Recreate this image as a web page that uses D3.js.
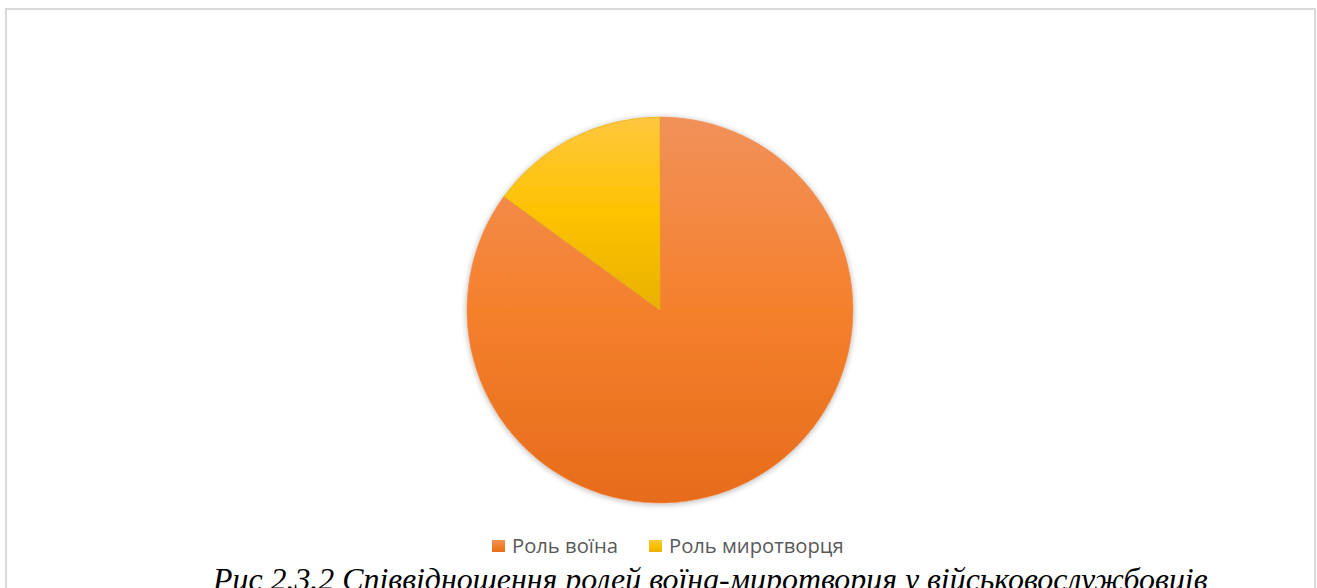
<!DOCTYPE html>
<html>
<head>
<meta charset="utf-8">
<script src="https://cdn.jsdelivr.net/npm/d3@7"></script>
<style>
  body { margin: 0; background: #fff; overflow: hidden; }
</style>
</head>
<body>
<div id="chart"></div>
<script>
// Data
const roles = ["Роль воїна", "Роль миротворця"];
const shares = [85, 15];
const caption = "Рис 2.3.2 Співвідношення ролей воїна-миротворця у військовослужбовців";

const width = 1317, height = 588;

let svg = d3.select("#chart")
    .append("svg")
    .attr("width", width)
    .attr("height", height);

const defs = svg.append("defs");

// gradients like the office style fill
const grads = [
    ["#f1915a", "#f5802c", "#e66c1b"],
    ["#ffc73f", "#fdc200", "#e9b100"]
];
grads.forEach((g, i) => {
    let lg = defs.append("linearGradient")
        .attr("id", "grad" + i)
        .attr("x1", 0).attr("y1", 0)
        .attr("x2", 0).attr("y2", 1);
    lg.append("stop").attr("offset", "0%").attr("stop-color", g[0]);
    lg.append("stop").attr("offset", "50%").attr("stop-color", g[1]);
    lg.append("stop").attr("offset", "100%").attr("stop-color", g[2]);
});

let shadow = defs.append("filter").attr("id", "shadow")
    .attr("x", "-10%").attr("y", "-10%").attr("width", "120%").attr("height", "120%");
shadow.append("feGaussianBlur").attr("in", "SourceAlpha").attr("stdDeviation", 3);
shadow.append("feOffset").attr("dx", 0).attr("dy", 1).attr("result", "blur");
shadow.append("feComponentTransfer").append("feFuncA").attr("type", "linear").attr("slope", 0.3);
let merge = shadow.append("feMerge");
merge.append("feMergeNode");
merge.append("feMergeNode").attr("in", "SourceGraphic");

// chart area border
svg.append("rect")
    .attr("x", 6)
    .attr("y", 9)
    .attr("width", 1309)
    .attr("height", 600)
    .attr("fill", "#fff")
    .attr("stroke", "#d9d9d9")
    .attr("stroke-width", 2);

const cx = 660, cy = 310, radius = 193;

const color = d3.scaleOrdinal()
    .domain(roles)
    .range(["url(#grad0)", "url(#grad1)"]);

const pie = d3.pie().sort(null).value(d => d.value);
const arc = d3.arc().innerRadius(0).outerRadius(radius);

const pieData = pie(roles.map((r, i) => ({ role: r, value: shares[i] })));

let g = svg.append("g")
    .attr("transform", `translate(${cx},${cy})`)
    .attr("filter", "url(#shadow)");

g.selectAll("path")
    .data(pieData)
    .enter()
    .append("path")
    .attr("d", arc)
    .attr("fill", d => color(d.data.role))
    .attr("stroke", (d, i) => i == 0 ? "#ee8a4c" : "#e0ad18")
    .attr("stroke-width", 0.6);

// Legend
const legendX = [492, 649];
const legend = svg.selectAll(".legend")
    .data(roles)
    .enter().append("g")
    .attr("class", "legend")
    .attr("transform", (d, i) => `translate(${legendX[i]},540)`);

legend.append("rect")
    .attr("width", 13)
    .attr("height", 12)
    .attr("fill", (d, i) => "url(#grad" + i + ")");

let legendText = legend.append("text")
    .attr("x", 20)
    .attr("y", 6)
    .attr("dy", ".35em")
    .style("font-family", "'Open Sans', sans-serif")
    .style("font-size", "15px")
    .style("fill", "#595959")
    .text(d => d);

// scale the legend font so the first label is as wide as in the reference
let lw = legendText.node().getComputedTextLength();
legendText.style("font-size", (15 * 106 / lw) + "px");

// Caption
let cap = svg.append("text")
    .attr("x", 213)
    .attr("y", 590)
    .style("font-family", "'Liberation Serif', 'Times New Roman', serif")
    .style("font-style", "italic")
    .style("font-size", "28px")
    .style("fill", "#000")
    .text(caption);

// fit the caption width to the reference
let len = cap.node().getComputedTextLength();
cap.style("font-size", (28 * 995 / len) + "px");
</script>
</body>
</html>
